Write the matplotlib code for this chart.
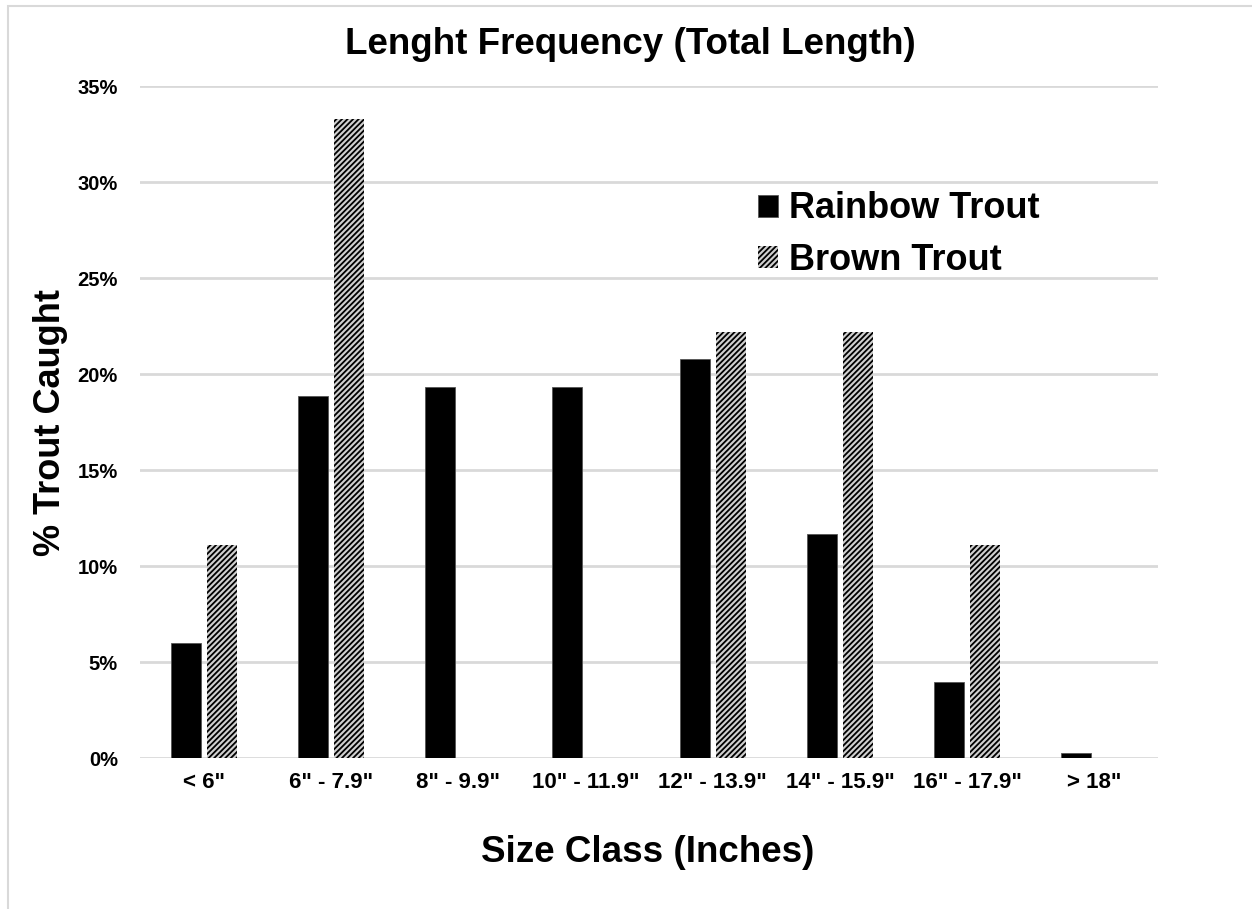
import matplotlib
matplotlib.use("Agg")
import matplotlib.pyplot as plt
import numpy as np
from matplotlib.patches import Rectangle

categories = ['< 6"', '6" - 7.9"', '8" - 9.9"', '10" - 11.9"', '12" - 13.9"',
              '14" - 15.9"', '16" - 17.9"', '> 18"']
rainbow = [6.0, 18.85, 19.3, 19.3, 20.8, 11.65, 3.95, 0.25]
brown = [11.1, 33.3, 0.0, 0.0, 22.2, 22.2, 11.1, 0.0]
yticks = [0, 5, 10, 15, 20, 25, 30, 35]

plt.rcParams['font.family'] = ['Liberation Sans', 'DejaVu Sans']
plt.rcParams['font.weight'] = 'bold'
plt.rcParams['hatch.linewidth'] = 1.3

fig = plt.figure(figsize=(12.52, 9.09), dpi=100)
fig.patches.append(Rectangle((8/1252, -0.1), 1.2, (1 - 6/909) + 0.1,
                             transform=fig.transFigure, fill=False,
                             edgecolor='#d9d9d9', linewidth=1.5))
ax = fig.add_axes([140/1252, 1 - 758/909, 1018/1252, (758 - 86)/909])

x = np.arange(len(categories))
w = 0.236
off = 0.142
b1 = ax.bar(x - off, rainbow, w, color='black', edgecolor='#555555', linewidth=0.6,
            label='Rainbow Trout', zorder=3)
b2 = ax.bar(x + off, brown, w, color='#d0d0d0', edgecolor='black', linewidth=0,
            hatch='//////', label='Brown Trout', zorder=3)

ax.set_xlim(-0.5, len(categories) - 0.5)
ax.set_ylim(0, 35)
ax.set_yticks(yticks)
ax.set_yticklabels([f'{v}%' for v in yticks], fontsize=14.5, fontweight='bold')
ax.set_xticks(x)
ax.set_xticklabels(categories, fontsize=16, fontweight='bold')
ax.tick_params(axis='both', length=0)
ax.tick_params(axis='x', pad=10)
ax.tick_params(axis='y', pad=16)
ax.grid(axis='y', color='#d9d9d9', linewidth=2, zorder=0)
for s in ax.spines.values():
    s.set_visible(False)

fig.text(630/1252, 1 - 45/909, 'Lenght Frequency (Total Length)', fontsize=26.5,
         fontweight='bold', ha='center', va='center')
fig.text(648/1252, 1 - 852/909, 'Size Class (Inches)', fontsize=26.5,
         fontweight='bold', ha='center', va='center')
fig.text(50/1252, 1 - 422/909, '% Trout Caught', fontsize=26,
         fontweight='bold', ha='center', va='center', rotation=90)

leg = fig.legend(handles=[b1, b2], loc='upper left',
                 bbox_to_anchor=(744/1252, 1 - 177/909), frameon=False,
                 fontsize=26, handlelength=0.55, handleheight=0.55,
                 handletextpad=0.3, labelspacing=0.45, borderaxespad=0)

fig.savefig('out.png', dpi=100)
